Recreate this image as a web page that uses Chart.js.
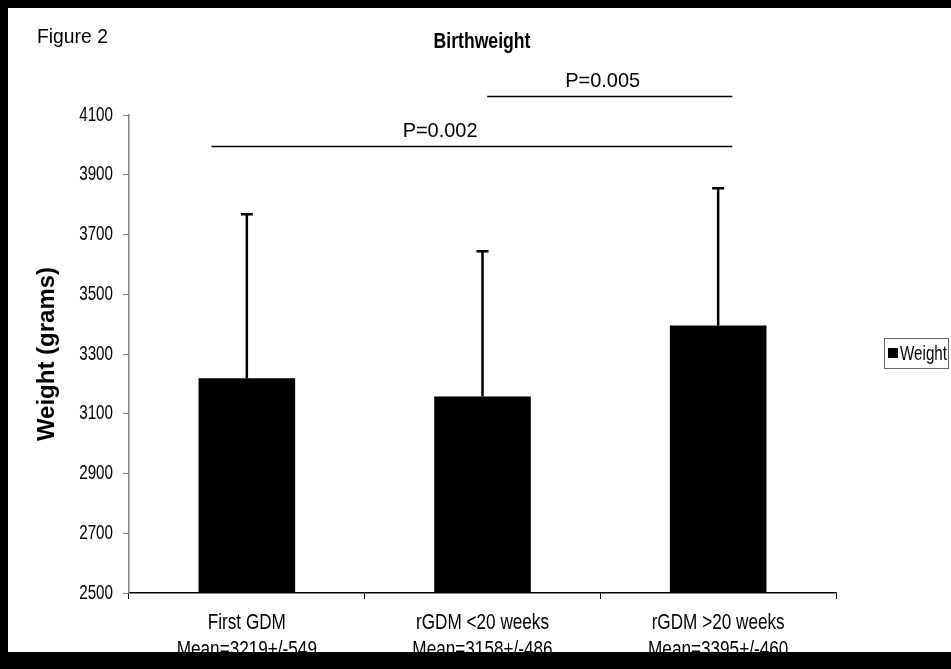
<!DOCTYPE html>
<html>
<head>
<meta charset="utf-8">
<title>Birthweight</title>
<script src="https://cdn.jsdelivr.net/npm/chart.js@4/dist/chart.umd.min.js"></script>
<style>
    html, body { margin: 0; padding: 0; background: #fff; }
</style>
</head>
<body>
<canvas id="birthChart" width="951" height="669"></canvas>
<script>
// Birthweight by GDM group (mean +/- SD)
const groups = ['First GDM', 'rGDM <20 weeks', 'rGDM >20 weeks'];
const meanLabels = ['Mean=3219+/-549', 'Mean=3158+/-486', 'Mean=3395+/-460'];
const meanWeight = [3219, 3158, 3395];
const sdWeight = [549, 486, 460];
const yTicks = [2500, 2700, 2900, 3100, 3300, 3500, 3700, 3900, 4100];

// Significance brackets, in category-index and gram units
const pLabels = ['P=0.002', 'P=0.005'];
const pFrom = [-0.15, 1.02];
const pTo = [2.06, 2.06];
const pLevel = [3996, 4163];
const pTextAt = [0.82, 1.51];

const plain = '"Liberation Sans", Arial, sans-serif';

// the scanned figure has horizontally squeezed lettering
function squeezedText(ctx, text, x, y, sx) {
    ctx.save();
    ctx.translate(x, y);
    ctx.scale(sx, 1);
    ctx.fillText(text, 0, 0);
    ctx.restore();
}

// Tick labels, error bars, brackets, legend and page frame
const extras = {
    id: 'extras',
    afterDatasetsDraw(chart) {
        const ctx = chart.ctx;
        const x = chart.scales.x;
        const y = chart.scales.y;
        ctx.save();
        ctx.strokeStyle = '#000';
        ctx.lineWidth = 2.5;
        meanWeight.forEach((m, i) => {
            const px = x.getPixelForValue(i);
            const top = y.getPixelForValue(m + sdWeight[i]);
            ctx.beginPath();
            ctx.moveTo(px, y.getPixelForValue(m));
            ctx.lineTo(px, top);
            ctx.moveTo(px - 6, top);
            ctx.lineTo(px + 6, top);
            ctx.stroke();
        });
        ctx.restore();
    },
    afterDraw(chart) {
        const ctx = chart.ctx;
        const x = chart.scales.x;
        const y = chart.scales.y;
        ctx.save();
        ctx.fillStyle = '#000';

        // y tick labels
        ctx.font = '20px ' + plain;
        ctx.textAlign = 'right';
        ctx.textBaseline = 'middle';
        y.ticks.forEach(t => {
            squeezedText(ctx, String(t.value), y.right - 16, y.getPixelForValue(t.value), 0.76);
        });

        // x tick labels, two lines each
        ctx.font = '22px ' + plain;
        ctx.textAlign = 'center';
        chart.data.labels.forEach((lines, i) => {
            const px = x.getPixelForTick(i);
            lines.forEach((line, k) => {
                squeezedText(ctx, line, px, x.top + 30 + k * 27, 0.78);
            });
        });

        // p-value brackets
        ctx.strokeStyle = '#000';
        ctx.lineWidth = 1.5;
        ctx.font = '21px ' + plain;
        ctx.textBaseline = 'bottom';
        pLabels.forEach((label, i) => {
            const py = Math.round(y.getPixelForValue(pLevel[i])) + 0.5;
            ctx.beginPath();
            ctx.moveTo(x.getPixelForValue(pFrom[i]), py);
            ctx.lineTo(x.getPixelForValue(pTo[i]), py);
            ctx.stroke();
            squeezedText(ctx, label, x.getPixelForValue(pTextAt[i]), py - 5, 0.95);
        });

        // headings
        ctx.textBaseline = 'middle';
        ctx.textAlign = 'left';
        ctx.font = '21px ' + plain;
        squeezedText(ctx, 'Figure 2', 37, 37, 0.92);
        ctx.textAlign = 'center';
        ctx.font = 'bold 22px ' + plain;
        squeezedText(ctx, 'Birthweight', 482, 42, 0.8);

        // legend
        const ds = chart.data.datasets[0];
        ctx.lineWidth = 1;
        ctx.strokeStyle = '#666';
        ctx.strokeRect(884.5, 338.5, 64, 30);
        ctx.fillStyle = ds.backgroundColor;
        ctx.fillRect(888, 348, 10, 10);
        ctx.fillStyle = '#000';
        ctx.textAlign = 'left';
        ctx.font = '20px ' + plain;
        squeezedText(ctx, ds.label, 900, 354, 0.76);

        // black frame of the scanned figure
        ctx.fillRect(0, 0, 951, 8);
        ctx.fillRect(0, 0, 8, 669);
        ctx.fillRect(0, 652, 951, 17);
        ctx.restore();
    }
};

const ctx = document.getElementById('birthChart').getContext('2d');
new Chart(ctx, {
    type: 'bar',
    data: {
        labels: groups.map((g, i) => [g, meanLabels[i]]),
        datasets: [{
            label: 'Weight',
            data: meanWeight,
            backgroundColor: '#000',
            borderWidth: 0,
            barPercentage: 0.41,
            categoryPercentage: 1
        }]
    },
    options: {
        responsive: false,
        animation: false,
        devicePixelRatio: 1,
        layout: {
            padding: { top: 115, right: 115, bottom: 0, left: 0 }
        },
        plugins: {
            legend: { display: false },
            title: { display: false },
            tooltip: { enabled: false }
        },
        scales: {
            x: {
                afterFit(scale) { scale.height = 76; },
                border: { color: '#000', width: 1.5 },
                grid: {
                    drawOnChartArea: false,
                    drawTicks: true,
                    tickLength: 6,
                    tickColor: '#000',
                    offset: true
                },
                ticks: { display: false }
            },
            y: {
                min: yTicks[0],
                max: yTicks[yTicks.length - 1],
                afterFit(scale) { scale.width = 129; },
                afterBuildTicks(scale) {
                    scale.ticks = yTicks.map(v => ({ value: v }));
                },
                border: { color: '#808080', width: 1.5 },
                grid: {
                    drawOnChartArea: false,
                    drawTicks: true,
                    tickLength: 6,
                    tickColor: '#808080'
                },
                ticks: { display: false },
                title: {
                    display: true,
                    text: 'Weight (grams)',
                    color: '#000',
                    padding: { top: 33, bottom: 0 },
                    font: { family: plain, size: 24, weight: 'bold' }
                }
            }
        }
    },
    plugins: [extras]
});
</script>
</body>
</html>
